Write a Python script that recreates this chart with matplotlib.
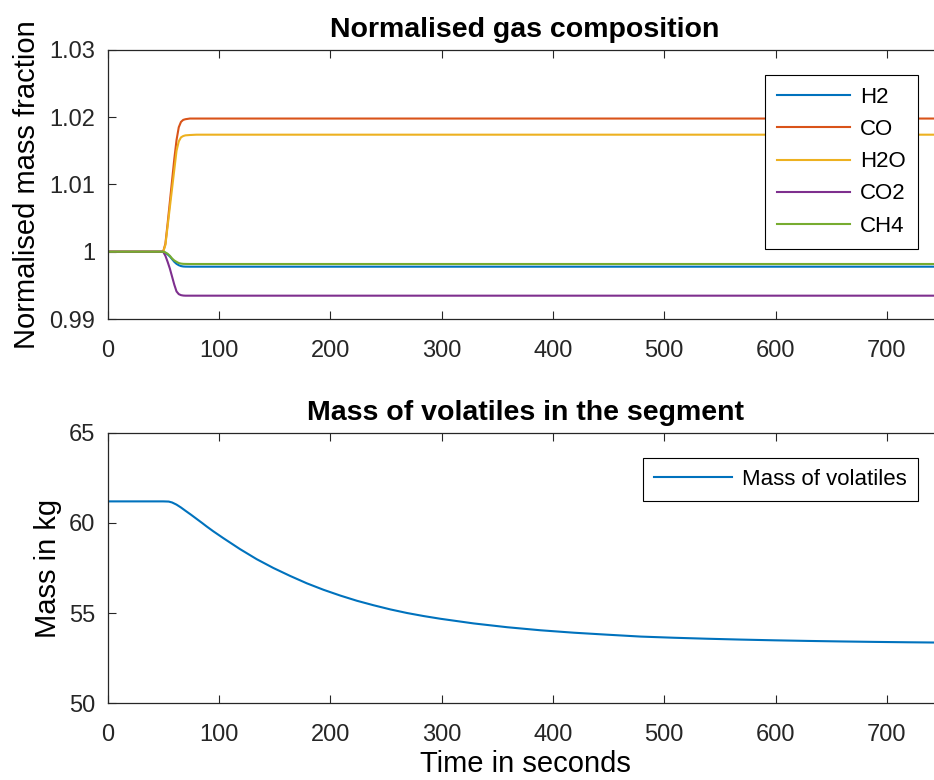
import numpy as np
import matplotlib.pyplot as plt

plt.rcParams['font.family'] = ['Liberation Sans', 'DejaVu Sans']

# gas composition (normalised)
t_gas = [0, 50, 52, 54, 56, 58, 60, 62, 64, 66, 68, 70, 74, 80, 750]
h2 = [1, 1, 0.99985, 0.9996, 0.9993, 0.9989, 0.9985, 0.9982, 0.9980, 0.99787, 0.99781, 0.99779, 0.99778, 0.99778, 0.99778]
co = [1, 1, 1.0012, 1.0042, 1.0074, 1.0106, 1.0138, 1.0166, 1.0185, 1.0193, 1.0196, 1.0197, 1.0198, 1.0198, 1.0198]
h2o = [1, 1, 1.0010, 1.0038, 1.0066, 1.0094, 1.0122, 1.0150, 1.0164, 1.0170, 1.0172, 1.0173, 1.01735, 1.0174, 1.0174]
co2 = [1, 1, 0.9994, 0.9985, 0.9975, 0.9963, 0.9951, 0.9941, 0.9937, 0.99355, 0.99349, 0.99347, 0.99347, 0.99347, 0.99347]
ch4 = [1, 1, 0.9999, 0.9997, 0.9994, 0.9990, 0.9987, 0.9985, 0.99832, 0.99824, 0.9982, 0.99819, 0.99818, 0.99818, 0.99818]
gas_names = ['H2', 'CO', 'H2O', 'CO2', 'CH4']

# mass of volatiles in the segment
t_mass = [0, 50, 55, 58, 62, 66, 70, 75, 80, 85, 89, 95, 104, 119, 134, 149, 164, 179,
          194, 209, 224, 239, 254, 269, 284, 299, 329, 359, 389, 419, 449, 479, 509,
          539, 569, 599, 629, 659, 689, 719, 750]
mass = [61.2, 61.2, 61.19, 61.14, 61.02, 60.86, 60.68, 60.46, 60.23, 60.0, 59.81,
        59.54, 59.16, 58.55, 57.99, 57.5, 57.06, 56.65, 56.29, 55.97, 55.68, 55.43,
        55.2, 55.0, 54.83, 54.68, 54.42, 54.21, 54.04, 53.905, 53.795, 53.69, 53.625,
        53.57, 53.523, 53.483, 53.449, 53.42, 53.395, 53.374, 53.356]

colors = ['#0072BD', '#D95319', '#EDB120', '#7E2F8E', '#77AC30']
dark = '#262626'

fig = plt.figure(figsize=(9.34, 7.8), dpi=100)
ax1 = fig.add_axes([0.1151, 0.591, 0.894, 0.345])
ax2 = fig.add_axes([0.1151, 0.0987, 0.894, 0.3462])

for name, vals, c in zip(gas_names, [h2, co, h2o, co2, ch4], colors):
    ax1.plot(t_gas, vals, color=c, linewidth=1.5, label=name)
ax1.set_ylim(0.99, 1.03)
ax1.set_yticks([0.99, 1.0, 1.01, 1.02, 1.03])
ax1.set_yticklabels(['0.99', '1', '1.01', '1.02', '1.03'])
ax1.set_title('Normalised gas composition', fontsize=20.5, fontweight='bold', pad=9)
ax1.set_ylabel('Normalised mass fraction', fontsize=21, labelpad=6)
leg1 = ax1.legend(loc='upper right', bbox_to_anchor=(0.983, 0.904), bbox_transform=fig.transFigure,
                  borderaxespad=0, fontsize=16, handlelength=3.3, handletextpad=0.45,
                  fancybox=False, edgecolor='black', framealpha=1, labelspacing=0.5,
                  borderpad=0.55)

ax2.plot(t_mass, mass, color=colors[0], linewidth=1.5, label='Mass of volatiles')
ax2.set_ylim(50, 65)
ax2.set_yticks([50, 55, 60, 65])
ax2.set_title('Mass of volatiles in the segment', fontsize=20.5, fontweight='bold', pad=9)
ax2.set_ylabel('Mass in kg', fontsize=21, labelpad=5)
ax2.set_xlabel('Time in seconds', fontsize=21, labelpad=3)
leg2 = ax2.legend(loc='upper right', bbox_to_anchor=(0.983, 0.413), bbox_transform=fig.transFigure,
                  borderaxespad=0, fontsize=16, handlelength=3.5, handletextpad=0.45,
                  fancybox=False, edgecolor='black', framealpha=1, borderpad=0.5)

for leg in (leg1, leg2):
    leg.get_frame().set_linewidth(0.8)

for ax in (ax1, ax2):
    ax.set_xlim(0, 750)
    ax.set_xticks(np.arange(0, 701, 100))
    ax.tick_params(direction='in', top=True, right=True, labelsize=17, colors=dark, length=6)
    ax.tick_params(axis='x', pad=15)
    ax.tick_params(axis='y', pad=9)
    for s in ax.spines.values():
        s.set_color(dark)
        s.set_linewidth(0.9)

fig.savefig('out.png', dpi=100)
